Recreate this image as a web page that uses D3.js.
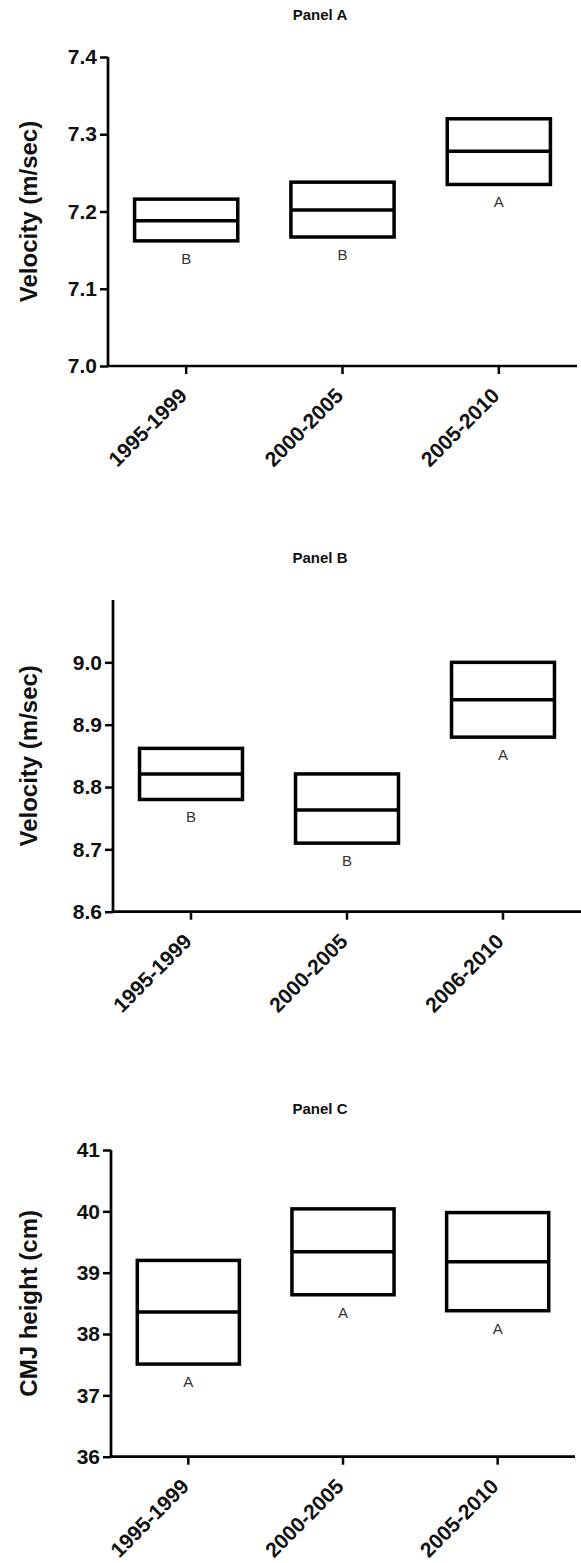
<!DOCTYPE html>
<html>
<head>
<meta charset="utf-8">
<script src="https://cdn.jsdelivr.net/npm/d3@7"></script>
<style>
  html, body { margin: 0; padding: 0; background: #fff; }
  svg { display: block; }
  text { font-family: "Liberation Sans", Arial, Helvetica, sans-serif; }
</style>
</head>
<body>
<svg id="chart" width="581" height="1563"></svg>
<script>
// ---------- data ----------
const panelTitles = ["Panel A", "Panel B", "Panel C"];
const yTitles = ["Velocity (m/sec)", "Velocity (m/sec)", "CMJ height (cm)"];

const categoriesA = ["1995-1999", "2000-2005", "2005-2010"];
const highA = [7.216, 7.238, 7.320];
const midA  = [7.188, 7.202, 7.278];
const lowA  = [7.162, 7.167, 7.235];
const lettersA = ["B", "B", "A"];
const yTicksA = [7.0, 7.1, 7.2, 7.3, 7.4];
const yDomainA = [7.0, 7.4];

const categoriesB = ["1995-1999", "2000-2005", "2006-2010"];
const highB = [8.862, 8.821, 9.000];
const midB  = [8.821, 8.763, 8.940];
const lowB  = [8.780, 8.710, 8.880];
const lettersB = ["B", "B", "A"];
const yTicksB = [8.6, 8.7, 8.8, 8.9, 9.0];
const yDomainB = [8.6, 9.1];

const categoriesC = ["1995-1999", "2000-2005", "2005-2010"];
const highC = [39.20, 40.04, 39.98];
const midC  = [38.36, 39.34, 39.18];
const lowC  = [37.51, 38.64, 38.38];
const lettersC = ["A", "A", "A"];
const yTicksC = [36, 37, 38, 39, 40, 41];
const yDomainC = [36, 41];

// ---------- layout ----------
const layouts = [
  { titleY: 15,   top: 57,   bottom: 366,   left: 108, right: 577, fmt: ".1f" },
  { titleY: 558,  top: 600,  bottom: 911.7, left: 113, right: 581, fmt: ".1f" },
  { titleY: 1109, top: 1150, bottom: 1456.7, left: 111, right: 575, fmt: "d" }
];

const panels = [
  { cats: categoriesA, hi: highA, mid: midA, lo: lowA, letters: lettersA, ticks: yTicksA, domain: yDomainA },
  { cats: categoriesB, hi: highB, mid: midB, lo: lowB, letters: lettersB, ticks: yTicksB, domain: yDomainB },
  { cats: categoriesC, hi: highC, mid: midC, lo: lowC, letters: lettersC, ticks: yTicksC, domain: yDomainC }
];

const svg = d3.select("#chart");

panels.forEach((p, i) => {
  const L = layouts[i];
  const g = svg.append("g");

  const x = d3.scaleBand().domain(p.cats).range([L.left, L.right]).paddingInner(0).paddingOuter(0);
  const y = d3.scaleLinear().domain(p.domain).range([L.bottom, L.top]);

  // title
  g.append("text")
    .attr("x", 320).attr("y", L.titleY + 5)
    .attr("text-anchor", "middle")
    .attr("font-size", 15).attr("font-weight", "bold")
    .attr("fill", "#111")
    .text(panelTitles[i]);

  // y axis
  const yAxis = d3.axisLeft(y).tickValues(p.ticks).tickFormat(d3.format(L.fmt)).tickSize(8).tickPadding(3);
  const ya = g.append("g").attr("transform", `translate(${L.left},0)`).call(yAxis);
  ya.select(".domain").attr("stroke", "#000").attr("stroke-width", 2.7).attr("d", `M-0,${L.top}V${L.bottom}`);
  ya.selectAll(".tick line").attr("stroke", "#000").attr("stroke-width", 2.5);
  ya.selectAll(".tick text").attr("font-size", 21).attr("font-weight", "bold").attr("fill", "#111")
    .attr("font-family", "'Liberation Sans', Arial, sans-serif");

  // x axis
  const xAxis = d3.axisBottom(x).tickSize(8).tickFormat(d => d);
  const xa = g.append("g").attr("transform", `translate(0,${L.bottom})`).call(xAxis);
  xa.select(".domain").attr("stroke", "#000").attr("stroke-width", 2.7).attr("d", `M${L.left},0H${L.right}`);
  xa.selectAll(".tick line").attr("stroke", "#000").attr("stroke-width", 2.5);
  xa.selectAll(".tick text")
    .attr("font-size", 21).attr("font-weight", "bold").attr("fill", "#111")
    .attr("font-family", "'Liberation Sans', Arial, sans-serif")
    .attr("text-anchor", "end")
    .attr("dy", 0)
    .attr("y", 0)
    .attr("transform", "translate(2,31) rotate(-45)");

  // y title
  g.append("text")
    .attr("transform", `translate(37,${(L.top + L.bottom) / 2}) rotate(-90)`)
    .attr("text-anchor", "middle")
    .attr("font-size", 24).attr("font-weight", "bold").attr("fill", "#111")
    .text(yTitles[i]);

  // boxes
  const bw = x.bandwidth() * 0.66;
  const rows = p.cats.map((c, k) => ({ c, hi: p.hi[k], mid: p.mid[k], lo: p.lo[k], letter: p.letters[k] }));
  const box = g.selectAll(".box").data(rows).enter().append("g").attr("class", "box");
  box.append("rect")
    .attr("x", d => x(d.c) + x.bandwidth() / 2 - bw / 2)
    .attr("y", d => y(d.hi))
    .attr("width", bw)
    .attr("height", d => y(d.lo) - y(d.hi))
    .attr("fill", "none").attr("stroke", "#000").attr("stroke-width", 3.5);
  box.append("line")
    .attr("x1", d => x(d.c) + x.bandwidth() / 2 - bw / 2)
    .attr("x2", d => x(d.c) + x.bandwidth() / 2 + bw / 2)
    .attr("y1", d => y(d.mid)).attr("y2", d => y(d.mid))
    .attr("stroke", "#000").attr("stroke-width", 3.5);
  box.append("text")
    .attr("x", d => x(d.c) + x.bandwidth() / 2)
    .attr("y", d => y(d.lo) + 23)
    .attr("text-anchor", "middle")
    .attr("font-size", 15).attr("fill", "#333")
    .text(d => d.letter);
});
</script>
</body>
</html>
